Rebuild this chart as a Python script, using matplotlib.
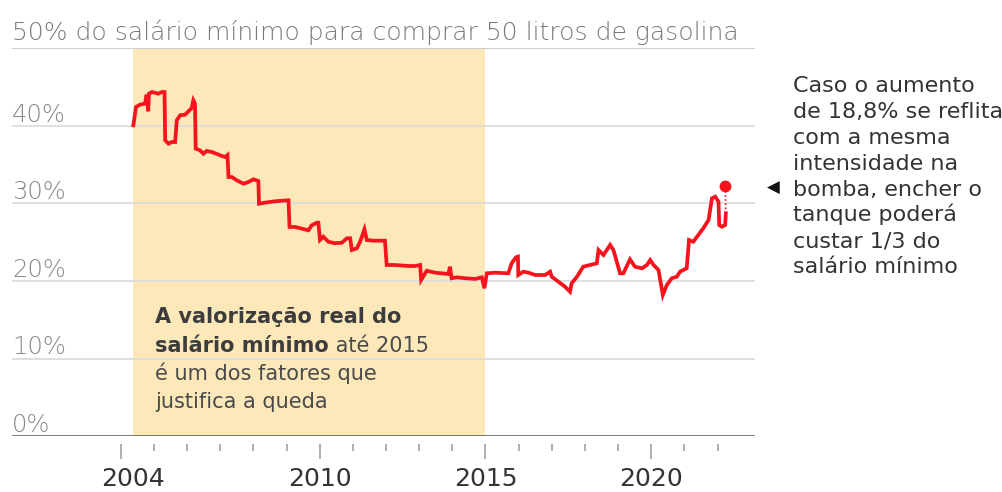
import matplotlib
matplotlib.use("Agg")
import matplotlib.pyplot as plt
import matplotlib.transforms as mtransforms

W, H, DPI = 1002, 492, 100

# ---- data ----
years = [2004.38, 2004.46, 2004.58, 2004.73, 2004.78, 2004.83, 2004.85, 2004.94, 2005.03, 2005.13,
         2005.24, 2005.32, 2005.34, 2005.44, 2005.54, 2005.64, 2005.69, 2005.79, 2005.94, 2006.04,
         2006.14, 2006.19, 2006.24, 2006.26, 2006.39, 2006.49, 2006.59, 2006.75, 2007.05, 2007.15,
         2007.22, 2007.25, 2007.35, 2007.50, 2007.70, 2007.85, 2008.00, 2008.15, 2008.17, 2008.35,
         2008.65, 2009.06, 2009.09, 2009.26, 2009.46, 2009.66, 2009.76, 2009.91, 2009.96, 2010.01,
         2010.11, 2010.26, 2010.46, 2010.67, 2010.82, 2010.92, 2010.97, 2011.12, 2011.22, 2011.35,
         2011.42, 2011.62, 2011.97, 2012.02, 2012.27, 2012.68, 2012.88, 2013.03, 2013.06, 2013.23,
         2013.48, 2013.88, 2013.93, 2013.98, 2014.14, 2014.39, 2014.69, 2014.89, 2014.97, 2015.04,
         2015.29, 2015.69, 2015.79, 2015.92, 2015.98, 2015.99, 2016.14, 2016.30, 2016.50, 2016.80,
         2016.95, 2017.00, 2017.20, 2017.40, 2017.55, 2017.60, 2017.76, 2017.95, 2018.16, 2018.36,
         2018.41, 2018.56, 2018.66, 2018.76, 2018.86, 2018.96, 2019.06, 2019.16, 2019.36, 2019.51,
         2019.72, 2019.87, 2019.97, 2020.07, 2020.22, 2020.35, 2020.47, 2020.62, 2020.77, 2020.87,
         2020.97, 2021.07, 2021.14, 2021.27, 2021.42, 2021.57, 2021.73, 2021.83, 2021.93, 2022.03,
         2022.05, 2022.13, 2022.23, 2022.25]
pct = [40.05, 42.41, 42.71, 42.84, 44.00, 41.86, 44.12, 44.34, 44.25, 44.12,
       44.34, 44.34, 38.12, 37.68, 37.90, 37.90, 40.70, 41.34, 41.42, 41.86,
       42.28, 43.27, 42.84, 37.04, 36.83, 36.39, 36.74, 36.61, 36.10, 35.97,
       36.22, 33.39, 33.39, 32.96, 32.53, 32.74, 33.09, 32.87, 29.95, 30.08,
       30.26, 30.39, 26.95, 26.95, 26.73, 26.52, 27.16, 27.50, 27.50, 25.27,
       25.70, 25.05, 24.85, 24.92, 25.49, 25.49, 23.98, 24.20, 25.05, 26.65,
       25.27, 25.18, 25.18, 22.05, 22.05, 21.92, 21.92, 22.05, 20.12, 21.31,
       21.06, 20.89, 21.83, 20.34, 20.46, 20.34, 20.25, 20.46, 19.05, 20.98,
       21.06, 20.98, 22.27, 23.04, 23.12, 20.76, 21.19, 21.06, 20.76, 20.76,
       21.19, 20.54, 19.90, 19.25, 18.61, 19.69, 20.54, 21.83, 22.05, 22.27,
       23.98, 23.34, 23.98, 24.63, 23.98, 22.47, 20.98, 20.98, 22.78, 21.83,
       21.62, 22.05, 22.69, 22.05, 21.40, 18.18, 19.47, 20.34, 20.54, 21.19,
       21.40, 21.62, 25.27, 25.05, 25.92, 26.78, 27.85, 30.64, 30.85, 30.21,
       27.20, 26.98, 27.20, 28.71]
proj_year = 2022.23
proj_pct = 32.2

shade_start = 2004.37
shade_end = 2015.0

ytick_vals = [0, 10, 20, 30, 40]
xtick_major = [2004, 2010, 2015, 2020]
xtick_minor = list(range(2004, 2023))

title = "50% do salário mínimo para comprar 50 litros de gasolina"
note_left_bold1 = "A valorização real do"
note_left_bold2 = "salário mínimo"
note_left_reg2 = " até 2015"
note_left_rest = ["é um dos fatores que", "justifica a queda"]
note_right = ["Caso o aumento", "de 18,8% se reflita", "com a mesma", "intensidade na",
              "bomba, encher o", "tanque poderá", "custar 1/3 do", "salário mínimo"]

# ---- style ----
FONT = "DejaVu Sans"
plt.rcParams["font.family"] = [FONT]
RED = "#f5141e"
SHADE = "#fde8b9"
GRID = "#dcdcdc"

fig = plt.figure(figsize=(W / DPI, H / DPI), dpi=DPI)
y0, y50 = 436.1, 48.1
ax = fig.add_axes([12 / W, (H - y0) / H, (755 - 12) / W, (y0 - y50) / H])
ax.set_xlim(2000.72, 2023.13)
ax.set_ylim(0, 50)
for s in ax.spines.values():
    s.set_visible(False)
ax.spines["bottom"].set_position(("outward", 6))

ax.axvspan(shade_start, shade_end, ymin=0, ymax=1, color=SHADE, lw=0, zorder=0)
for v in ytick_vals[1:]:
    ax.axhline(v, color=GRID, lw=1.3, zorder=1)
ax.axhline(50, color="#c9c9c9", lw=1.3, zorder=1)
ax.axhline(0, color="#555555", lw=1.8, zorder=3)

ax.plot(years, pct, color=RED, lw=2.7, solid_joinstyle="miter", zorder=4)
ax.plot([years[-1], proj_year], [pct[-1], proj_pct], color=RED, lw=1.2, ls=(0, (1, 1.5)), zorder=4)
ax.plot([proj_year], [proj_pct], "o", color=RED, ms=8.5, mec="none", zorder=5)

# y labels above grid lines
ytrans = mtransforms.offset_copy(ax.get_yaxis_transform(), fig=fig, x=0, y=4, units="dots")
for v in ytick_vals:
    ax.text(0, v, f"{v}%", transform=ytrans, ha="left", va="baseline",
            fontsize=17.5, color="#8a8a8a", fontweight="light")
ax.set_yticks([])

ax.set_xticks(xtick_major)
ax.set_xticks(xtick_minor, minor=True)
ax.set_xticklabels([str(y) for y in xtick_major])
ax.tick_params(axis="x", which="major", length=10.5, width=1.1, color="#9a9a9a",
               labelsize=18, labelcolor="#333333", pad=6)
ax.tick_params(axis="x", which="minor", length=5, width=1.1, color="#9a9a9a")
lab0 = ax.get_xticklabels()[0]
lab0.set_transform(lab0.get_transform() + mtransforms.ScaledTranslation(12 / DPI, 0, fig.dpi_scale_trans))

# title
fig.text(12 / W, 1 - 40 / H, title, ha="left", va="baseline", fontsize=18,
         color="#7a7a7a", fontweight="light")

# left note inside shade
def fy(ypx):
    return 1 - ypx / H

t1 = fig.text(155 / W, fy(323.3), note_left_bold1, fontsize=15, fontweight="bold",
              color="#3c3c3c", va="baseline")
t2 = fig.text(155 / W, fy(351.7), note_left_bold2, fontsize=15, fontweight="bold",
              color="#3c3c3c", va="baseline")
ax.annotate(note_left_reg2, xy=(1, 0), xycoords=t2, fontsize=15, color="#4a4a4a",
            va="bottom", ha="left", annotation_clip=False)
for i, line in enumerate(note_left_rest):
    fig.text(155 / W, fy(380 + 27.7 * i), line, fontsize=15, color="#4a4a4a", va="baseline")

# right note
for i, line in enumerate(note_right):
    fig.text(793 / W, fy(91.7 + 25.95 * i), line, fontsize=16, color="#333333", va="baseline")
fig.text(773 / W, fy(188), "\u25C0", fontsize=12, color="#111111", ha="center", va="center")

fig.savefig("out.png", dpi=DPI)
